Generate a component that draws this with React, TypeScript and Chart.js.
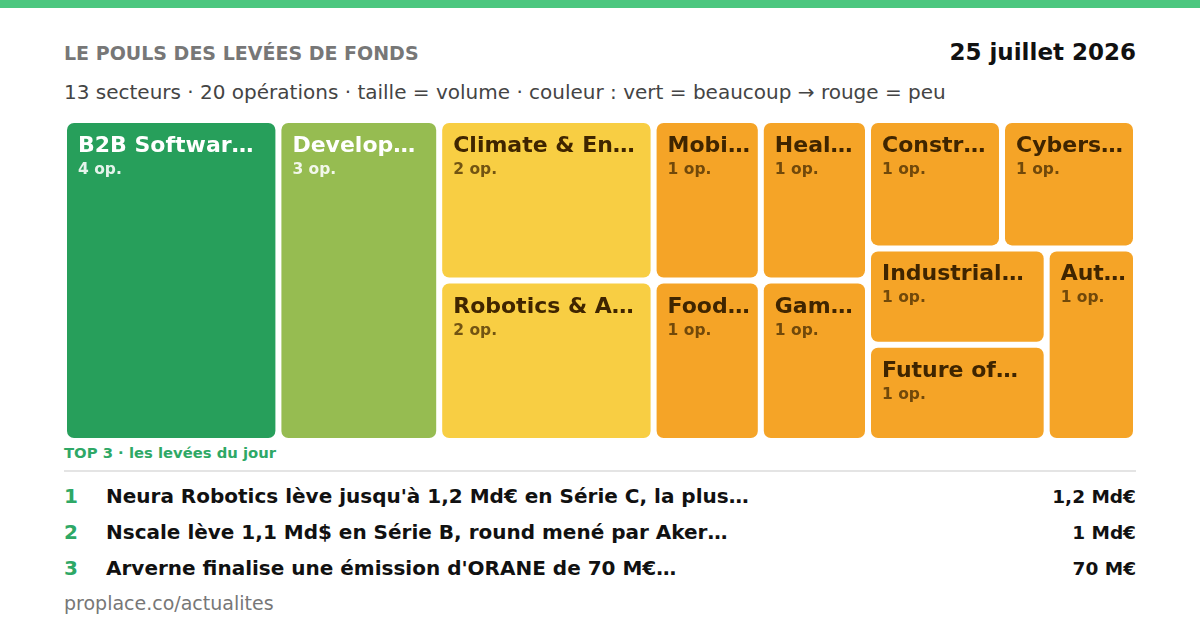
import React, { useEffect, useRef } from "react";
import { Chart, registerables } from "chart.js";

Chart.register(...registerables);

// ---- data ----
const sectors = [
  "B2B Software & SaaS",
  "Developer Tools",
  "Climate & Energy",
  "Robotics & Automation",
  "Mobility",
  "Foodtech",
  "Healthcare",
  "Gaming",
  "Construction",
  "Cybersecurity",
  "Industrial Tech",
  "Future of Work",
  "Automotive",
];
const operations = [4, 3, 2, 2, 1, 1, 1, 1, 1, 1, 1, 1, 1];
const topTitles = [
  "Neura Robotics lève jusqu'à 1,2 Md€ en Série C, la plus…",
  "Nscale lève 1,1 Md$ en Série B, round mené par Aker…",
  "Arverne finalise une émission d'ORANE de 70 M€…",
];
const topAmounts = ["1,2 Md€", "1 Md€", "70 M€"];

// ---- styles ----
const FONT = '"DejaVu Sans", "Liberation Sans", sans-serif';
const opsColor: Record<number, string> = {
  4: "#279f5b",
  3: "#96bc51",
  2: "#f8ce43",
  1: "#f5a427",
};
const GREEN = "#2ea866";

type Rect = { i: number; x: number; y: number; w: number; h: number };

function squarify(values: number[], W: number, H: number): Rect[] {
  const total = values.reduce((a, b) => a + b, 0);
  const k = (W * H) / total;
  const items = values.map((v, i) => ({ i, a: v * k })).sort((p, q) => q.a - p.a);
  const out: Rect[] = [];
  let x = 0, y = 0, w = W, h = H;
  const worst = (row: { a: number }[], side: number) => {
    const s = row.reduce((acc, r) => acc + r.a, 0);
    let m = 0;
    for (const r of row) {
      const v = Math.max((side * side * r.a) / (s * s), (s * s) / (side * side * r.a));
      if (v > m) m = v;
    }
    return m;
  };
  let idx = 0;
  while (idx < items.length) {
    const side = Math.min(w, h);
    const row = [items[idx]];
    idx++;
    while (idx < items.length) {
      const test = row.concat([items[idx]]);
      if (worst(test, side) <= worst(row, side)) {
        row.push(items[idx]);
        idx++;
      } else break;
    }
    const s = row.reduce((acc, r) => acc + r.a, 0);
    if (w >= h) {
      const cw = s / h;
      let yy = y;
      for (const r of row) {
        const rh = r.a / cw;
        out.push({ i: r.i, x, y: yy, w: cw, h: rh });
        yy += rh;
      }
      x += cw;
      w -= cw;
    } else {
      const rh = s / w;
      let xx = x;
      for (const r of row) {
        const rw = r.a / rh;
        out.push({ i: r.i, x: xx, y, w: rw, h: rh });
        xx += rw;
      }
      y += rh;
      h -= rh;
    }
  }
  return out;
}

function fit(ctx: CanvasRenderingContext2D, text: string, maxW: number) {
  if (ctx.measureText(text).width <= maxW) return text;
  let t = text;
  while (t.length > 0) {
    t = t.slice(0, -1);
    const cand = t.replace(/\s+$/, "") + "…";
    if (ctx.measureText(cand).width <= maxW) return cand;
  }
  return "…";
}

const treemapPlugin = {
  id: "treemapTiles",
  afterDatasetsDraw(chart: any) {
    const { ctx, chartArea, scales } = chart;
    const W = chartArea.right - chartArea.left;
    const H = chartArea.bottom - chartArea.top;
    const rects = squarify(operations, W, H);
    const gap = 3;
    ctx.save();
    for (const r of rects) {
      const x0 = scales.x.getPixelForValue(r.x / W);
      const x1 = scales.x.getPixelForValue((r.x + r.w) / W);
      const y0 = scales.y.getPixelForValue(r.y / H);
      const y1 = scales.y.getPixelForValue((r.y + r.h) / H);
      const left = Math.min(x0, x1) + gap;
      const top = Math.min(y0, y1) + gap;
      const tw = Math.abs(x1 - x0) - 2 * gap;
      const th = Math.abs(y1 - y0) - 2 * gap;
      const ops = operations[r.i];
      ctx.fillStyle = opsColor[ops] || opsColor[1];
      ctx.beginPath();
      ctx.roundRect(left, top, tw, th, 7);
      ctx.fill();
      const light = ops >= 3;
      ctx.textAlign = "left";
      ctx.textBaseline = "alphabetic";
      ctx.font = `bold 22px ${FONT}`;
      ctx.fillStyle = light ? "#ffffff" : "#3f2500";
      const label = fit(ctx, sectors[r.i], tw - 18);
      ctx.fillText(label, left + 11, top + 29);
      ctx.font = `bold 15.5px ${FONT}`;
      ctx.fillStyle = light ? "rgba(255,255,255,0.88)" : "rgba(63,37,0,0.72)";
      ctx.fillText(`${ops} op.`, left + 11, top + 51);
    }
    ctx.restore();
  },
};

function Treemap() {
  const ref = useRef<HTMLCanvasElement | null>(null);
  useEffect(() => {
    if (!ref.current) return;
    const chart = new Chart(ref.current, {
      type: "scatter",
      data: {
        datasets: [
          {
            data: sectors.map(() => ({ x: 0.5, y: 0.5 })),
            pointRadius: 0,
            showLine: false,
          },
        ],
      },
      options: {
        animation: false,
        responsive: false,
        maintainAspectRatio: false,
        devicePixelRatio: 1,
        layout: { padding: 0 },
        events: [],
        plugins: { legend: { display: false }, tooltip: { enabled: false } },
        scales: {
          x: { type: "linear", min: 0, max: 1, display: false },
          y: { type: "linear", min: 0, max: 1, display: false, reverse: true },
        },
      },
      plugins: [treemapPlugin],
    } as any);
    return () => chart.destroy();
  }, []);
  return (
    <canvas
      ref={ref}
      width={1072}
      height={321}
      style={{ position: "absolute", left: 64, top: 120, width: 1072, height: 321 }}
    />
  );
}

function Txt(props: {
  x?: number;
  right?: number;
  baseline: number;
  size: number;
  bold?: boolean;
  color: string;
  children: React.ReactNode;
}) {
  const { x, right, baseline, size, bold, color, children } = props;
  const style: React.CSSProperties = {
    position: "absolute",
    top: baseline - 0.846 * size,
    fontSize: size,
    lineHeight: `${size}px`,
    fontWeight: bold ? "bold" : "normal",
    color,
    whiteSpace: "nowrap",
    fontFamily: FONT,
  };
  if (right !== undefined) style.right = 1200 - right;
  else style.left = x;
  return <div style={style}>{children}</div>;
}

export default function App() {
  return (
    <div
      style={{
        position: "fixed",
        left: 0,
        top: 0,
        width: 1200,
        height: 630,
        background: "#ffffff",
        overflow: "hidden",
        fontFamily: FONT,
      }}
    >
      <div style={{ position: "absolute", left: 0, top: 0, width: 1200, height: 8, background: "#4cc77f" }} />
      <Txt x={64} baseline={60} size={19} bold color="#777777">
        LE POULS DES LEVÉES DE FONDS
      </Txt>
      <Txt right={1136} baseline={60} size={23} bold color="#111111">
        25 juillet 2026
      </Txt>
      <Txt x={64} baseline={99} size={20} color="#444444">
        13 secteurs · 20 opérations · taille = volume · couleur : vert = beaucoup → rouge = peu
      </Txt>
      <Treemap />
      <Txt x={64} baseline={458.7} size={14.8} bold color={GREEN}>
        TOP 3 · les levées du jour
      </Txt>
      <div style={{ position: "absolute", left: 64, top: 470, width: 1072, height: 2, background: "#e4e4e4" }} />
      {topTitles.map((t, i) => (
        <React.Fragment key={i}>
          <Txt x={64} baseline={503.3 + i * 36} size={20} bold color={GREEN}>
            {i + 1}
          </Txt>
          <Txt x={106} baseline={503.3 + i * 36} size={20} bold color="#111111">
            {t}
          </Txt>
          <Txt right={1136} baseline={503.3 + i * 36} size={18.5} bold color="#111111">
            {topAmounts[i]}
          </Txt>
        </React.Fragment>
      ))}
      <Txt x={64} baseline={610} size={19} color="#777777">
        proplace.co/actualites
      </Txt>
    </div>
  );
}
